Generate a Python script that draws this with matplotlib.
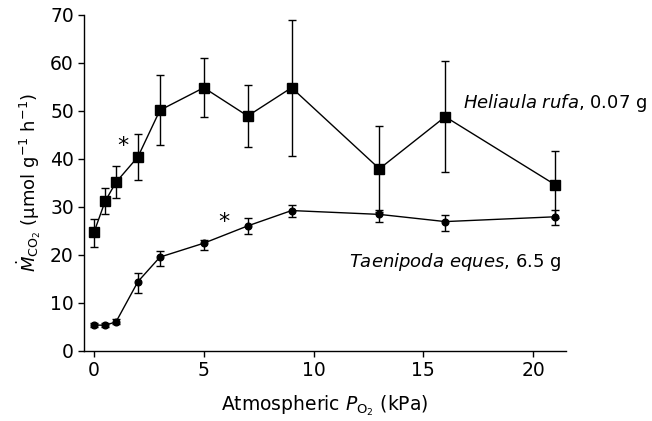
import matplotlib
matplotlib.use("Agg")
import matplotlib.pyplot as plt
import numpy as np

plt.rcParams['font.family'] = ['DejaVu Sans']
plt.rcParams['mathtext.fontset'] = 'dejavusans'

# Data
po2 = [0, 0.5, 1, 2, 3, 5, 7, 9, 13, 16, 21]

heliaula = [24.7, 31.1, 35.1, 40.4, 50.1, 54.8, 48.9, 54.8, 37.9, 48.75, 34.6]
heliaula_hi = [27.5, 33.8, 38.5, 45.1, 57.4, 60.9, 55.4, 68.9, 46.8, 60.4, 41.7]
heliaula_lo = [21.7, 28.4, 31.8, 35.6, 42.8, 48.75, 42.5, 40.6, 28.9, 37.2, 27.6]

taenipoda = [5.35, 5.3, 6.0, 14.4, 19.5, 22.4, 26.0, 29.2, 28.4, 26.9, 27.9]
taenipoda_hi = [5.7, 5.7, 6.5, 16.25, 20.8, 23.1, 27.6, 30.4, 29.25, 28.3, 29.3]
taenipoda_lo = [5.0, 4.9, 5.5, 12.0, 17.7, 21.0, 24.25, 27.8, 26.75, 24.9, 26.2]

xticks = [0, 5, 10, 15, 20]
yticks = [0, 10, 20, 30, 40, 50, 60, 70]

fig = plt.figure(figsize=(6.52, 4.21), dpi=100)
ax = fig.add_axes([0.1288, 0.167, 0.868 - 0.1288, 0.965 - 0.167])

def yerr(v, lo, hi):
    v = np.array(v); return [v - np.array(lo), np.array(hi) - v]

ax.errorbar(po2, heliaula, yerr=yerr(heliaula, heliaula_lo, heliaula_hi),
            color='black', marker='s', markersize=6.5, lw=1.0, elinewidth=1.0,
            capsize=3.2, capthick=1.0)
ax.errorbar(po2, taenipoda, yerr=yerr(taenipoda, taenipoda_lo, taenipoda_hi),
            color='black', marker='o', markersize=4.8, lw=1.0, elinewidth=1.0,
            capsize=3.2, capthick=1.0)

ax.set_xlim(-0.46, 21.5)
ax.set_ylim(0, 70)
ax.set_xticks(xticks)
ax.set_yticks(yticks)
for s in ['top', 'right']:
    ax.spines[s].set_visible(False)
ax.spines['left'].set_linewidth(1.0)
ax.spines['bottom'].set_linewidth(1.0)
ax.tick_params(direction='out', length=4.3, width=1.0, labelsize=13.5, pad=3)

ax.set_xlabel(r'Atmospheric $\mathit{P}_{\mathrm{O_2}}$ (kPa)', fontsize=13.5, labelpad=10)
ax.set_ylabel(r'$\dot{\mathit{M}}_{\mathrm{CO_2}}$ ($\mathrm{\mu}$mol g$^{-1}$ h$^{-1}$)', fontsize=13, labelpad=5)

ax.text(16.81, 51.6, r'$\mathit{Heliaula\ rufa}$, 0.07 g', fontsize=13, va='center', ha='left', clip_on=False)
ax.text(11.6, 18.5, r'$\mathit{Taenipoda\ eques}$, 6.5 g', fontsize=13, va='center', ha='left', clip_on=False)
ax.text(1.31, 42.6, '*', fontsize=16, ha='center', va='center')
ax.text(5.93, 26.9, '*', fontsize=16, ha='center', va='center')

fig.savefig('out.png', dpi=100)
